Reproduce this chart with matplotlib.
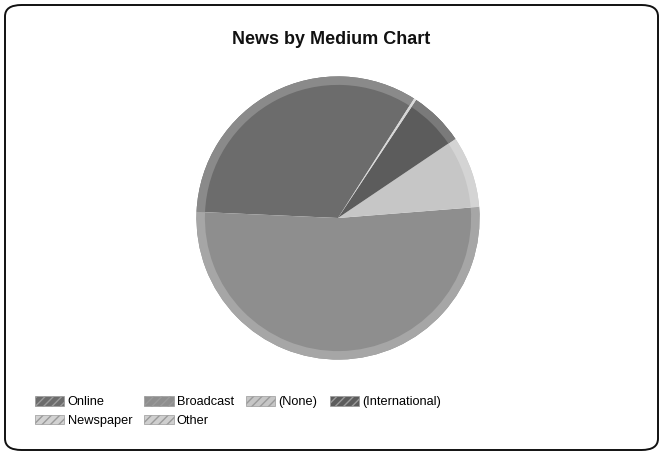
import matplotlib.pyplot as plt
from matplotlib.patches import FancyBboxPatch, Patch

plt.rcParams['font.family'] = ['Liberation Sans', 'DejaVu Sans']

# slice sizes in degrees
labels = ["Online", "Broadcast", "(None)", "(International)", "Newspaper", "Other"]
values = [120.0, 187.0, 29.5, 22.5, 0.6, 0.4]
colors = ["#6c6c6c", "#8e8e8e", "#c6c6c6", "#5c5c5c", "#d2d2d2", "#cfcfcf"]
rim_colors = ["#8a8a8a", "#a6a6a6", "#d4d4d4", "#7a7a7a", "#dcdcdc", "#dadada"]

fig = plt.figure(figsize=(6.62, 4.54), dpi=100)

# rounded frame round the whole chart
frame = FancyBboxPatch((5 / 662, 4 / 454), 653 / 662, 445 / 454,
                       boxstyle="round,pad=0,rounding_size=0.025",
                       transform=fig.transFigure, fill=False,
                       edgecolor="#111111", linewidth=1.4)
fig.patches.append(frame)

fig.text(0.5, 1 - 40 / 454, "News by Medium Chart", ha="center", va="center",
         fontsize=13, fontweight="bold", color="#111111")

ax = fig.add_axes([195 / 662, 93 / 454, 286 / 662, 286 / 454])
ax.pie(values, colors=colors, startangle=57.5, counterclock=True,
       radius=1.0, wedgeprops=dict(linewidth=0))
# lighter outer rim, like the bevel in the original
ax.pie(values, colors=rim_colors, startangle=57.5, counterclock=True,
       radius=1.0, wedgeprops=dict(width=0.06, linewidth=0))
ax.set_xlim(-1.01, 1.01)
ax.set_ylim(-1.01, 1.01)
ax.set_aspect("equal")
ax.axis("off")

# legend fills column by column: put entries in the reference's reading order
order = [0, 4, 1, 5, 2, 3]
handles = [Patch(facecolor=colors[i], edgecolor="#9a9a9a", hatch="////",
                 linewidth=0.5, label=labels[i]) for i in order]
fig.legend(handles=handles, loc="upper left",
           bbox_to_anchor=(35 / 662, 1 - 396 / 454), ncol=4, frameon=False,
           fontsize=9.2, handlelength=2.3, handleheight=0.8, handletextpad=0.25,
           columnspacing=0.95, labelspacing=0.5, borderpad=0, borderaxespad=0)

fig.savefig("out.png", dpi=100)
